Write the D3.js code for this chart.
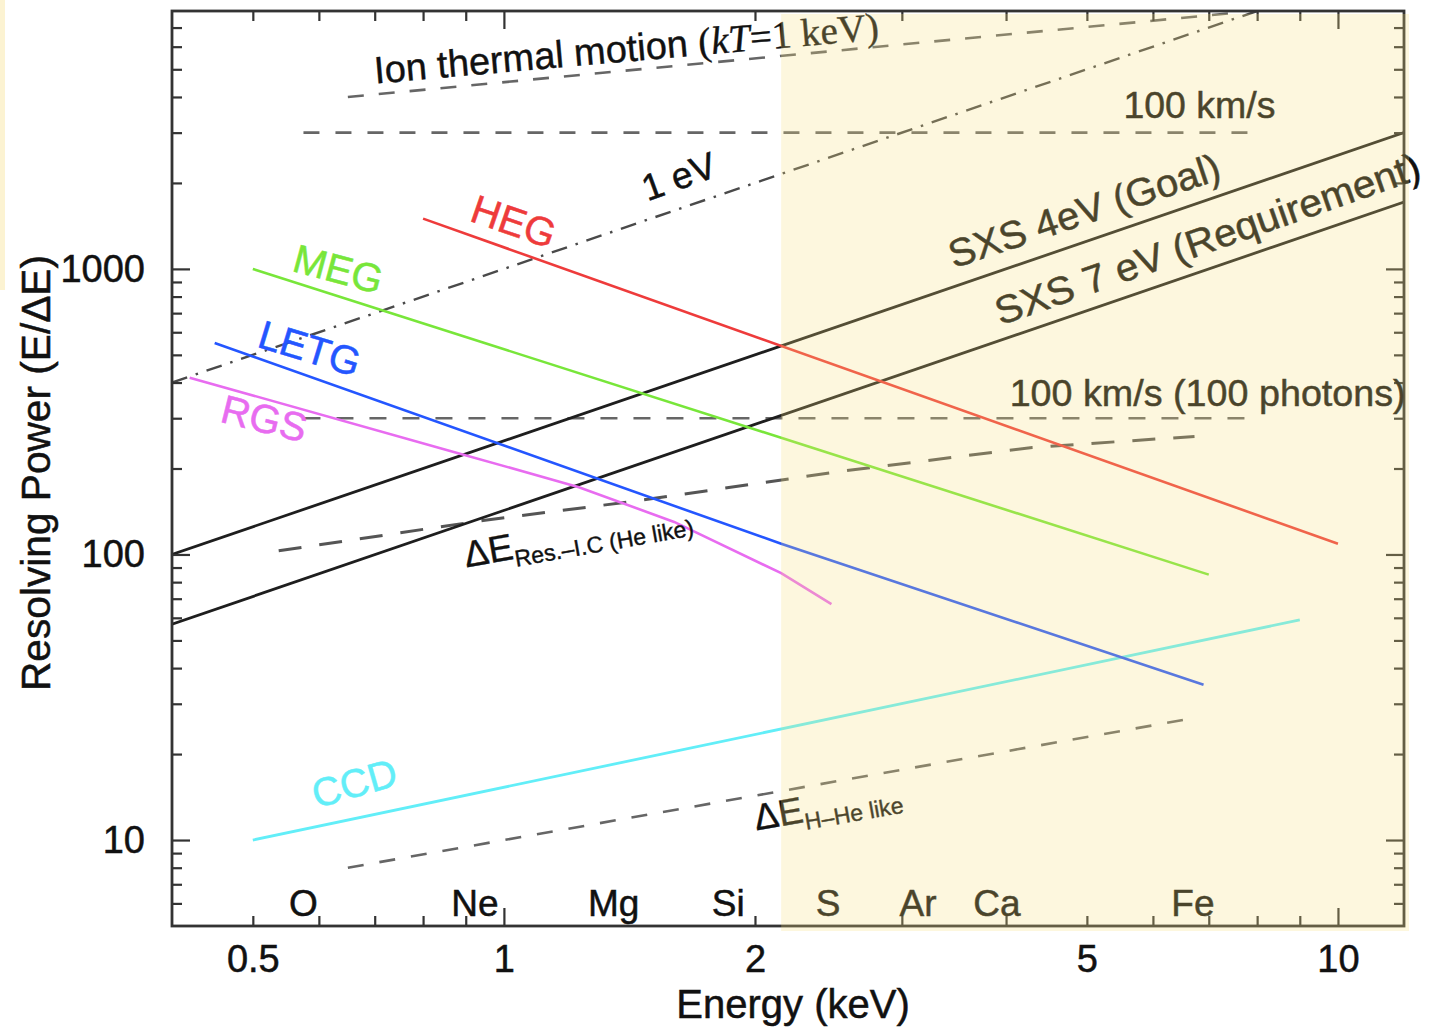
<!DOCTYPE html>
<html><head><meta charset="utf-8">
<script src="https://cdn.jsdelivr.net/npm/d3@7"></script>
<style>
body{margin:0;background:#fff;}
svg{display:block;font-family:"Liberation Sans",Arial,Helvetica,sans-serif;}
svg text{paint-order:stroke;}
</style></head><body>
<svg id="chart" width="1434" height="1029"></svg>
<script>
// ---------- data ----------
const xDomain = [0.4, 12];
const yDomain = [5, 8000];
const xTickLabels = [0.5, 1, 2, 5, 10];
const yTickLabels = [10, 100, 1000];
const xMinorTicks = [0.5, 0.6, 0.7, 0.8, 0.9, 2, 3, 4, 5, 6, 7, 8, 9];
const xMajorTicks = [1, 10];
const yMinorTicks = [6, 7, 8, 9, 20, 30, 40, 50, 60, 70, 80, 90, 200, 300, 400, 500, 600, 700, 800, 900, 2000, 3000, 4000, 5000, 6000, 7000];
const yMajorTicks = [10, 100, 1000];

const hegE = [0.8, 10],          hegR = [1500, 109];
const megE = [0.5, 7],           megR = [1000, 85];
const letgE = [0.45, 2.15, 6.9], letgR = [550, 109, 35];
const rgsE = [0.42, 0.86, 1.23, 1.6, 2.15, 2.47], rgsR = [416, 231, 172, 130, 86, 67];
const ccdE = [0.5, 9],           ccdR = [10, 59];
const sxsGoalE = [0.4, 12],      sxsGoalR = [100, 3000];
const sxsReqE = [0.4, 12],       sxsReqR = [57, 1714];
const oneEvE = [0.4, 8],         oneEvR = [400, 8000];
const ionE = [0.65, 7.6],        ionR = [4000, 7900];
const v100E = [0.575, 7.9],      v100R = [3000, 3000];
const v100pE = [0.575, 7.9],     v100pR = [300, 300];
const resIcE = [0.537, 0.944, 1.454, 2.52, 4.3, 6.73], resIcR = [103, 131.5, 154.5, 195, 237, 259];
const hHeE = [0.65, 6.8],        hHeR = [8, 26.9];

const elementNames = ['O', 'Ne', 'Mg', 'Si', 'S', 'Ar', 'Ca', 'Fe'];
const elementE = [0.575, 0.923, 1.354, 1.858, 2.447, 3.137, 3.9, 6.7];
const shadeStartE = 2.15;

// ---------- setup ----------
const svg = d3.select('#chart');
const L = 172, R = 1404, T = 11, B = 926;
const x = d3.scaleLog().domain(xDomain).range([L, R]);
const y = d3.scaleLog().domain(yDomain).range([B, T]);

svg.append('rect').attr('width', 1434).attr('height', 1029).attr('fill', '#fff');
svg.append('rect').attr('x', 0).attr('y', 0).attr('width', 5).attr('height', 290).attr('fill', '#fcf3d2');

svg.append('clipPath').attr('id', 'plotclip').append('rect')
  .attr('x', L).attr('y', T).attr('width', R - L).attr('height', B - T);

// ---------- series ----------
const series = [
  {E: ionE, V: ionR, color: '#666', w: 2.6, dash: '16,15'},
  {E: v100E, V: v100R, color: '#666', w: 2.6, dash: '16,16'},
  {E: v100pE, V: v100pR, color: '#666', w: 2.6, dash: '17,16'},
  {E: resIcE, V: resIcR, color: '#555', w: 3, dash: '23,18'},
  {E: hHeE, V: hHeR, color: '#666', w: 2.6, dash: '16,16'},
  {E: oneEvE, V: oneEvR, color: '#4a4a4a', w: 2.4, dash: '16,9,2.5,9'},
  {E: sxsGoalE, V: sxsGoalR, color: '#1e1e1e', w: 2.8, dash: null},
  {E: sxsReqE, V: sxsReqR, color: '#1e1e1e', w: 2.8, dash: null},
  {E: ccdE, V: ccdR, color: '#62eef8', w: 2.8, dash: null},
  {E: rgsE, V: rgsR, color: '#e86cf0', w: 2.6, dash: null},
  {E: letgE, V: letgR, color: '#2456ff', w: 2.6, dash: null},
  {E: megE, V: megR, color: '#78e63a', w: 2.6, dash: null},
  {E: hegE, V: hegR, color: '#ee3b3b', w: 2.6, dash: null}
];
const line = d3.line().x(d => x(d[0])).y(d => y(d[1]));
const gLines = svg.append('g').attr('clip-path', 'url(#plotclip)');
series.forEach(s => {
  gLines.append('path')
    .attr('d', line(s.E.map((e, i) => [e, s.V[i]])))
    .attr('fill', 'none').attr('stroke', s.color).attr('stroke-width', s.w)
    .attr('stroke-dasharray', s.dash);
});

// ---------- axes ----------
function tickAxis(axisFn, scale, vals, size, transform) {
  const g = svg.append('g').attr('transform', transform)
    .call(axisFn(scale).tickValues(vals).tickSize(size).tickFormat(''));
  g.select('.domain').remove();
  g.selectAll('.tick line').attr('stroke', '#333').attr('stroke-width', 2.2);
}
tickAxis(d3.axisBottom, x, xMinorTicks, -10, `translate(0,${B})`);
tickAxis(d3.axisBottom, x, xMajorTicks, -18, `translate(0,${B})`);
tickAxis(d3.axisTop, x, xMinorTicks, -10, `translate(0,${T})`);
tickAxis(d3.axisTop, x, xMajorTicks, -18, `translate(0,${T})`);
tickAxis(d3.axisLeft, y, yMinorTicks, -10, `translate(${L},0)`);
tickAxis(d3.axisLeft, y, yMajorTicks, -18, `translate(${L},0)`);
tickAxis(d3.axisRight, y, yMinorTicks, -10, `translate(${R},0)`);
tickAxis(d3.axisRight, y, yMajorTicks, -18, `translate(${R},0)`);

const txtStroke = sel => sel.attr('stroke', d => null);

const gxl = svg.append('g').attr('transform', `translate(0,${B})`)
  .call(d3.axisBottom(x).tickValues(xTickLabels).tickSize(0).tickPadding(19).tickFormat(d => String(d)));
gxl.select('.domain').remove();
gxl.selectAll('text').attr('font-size', 38).attr('fill', '#111').attr('stroke', '#111').attr('stroke-width', 0.5)
  .attr('font-family', '"Liberation Sans",Arial,sans-serif');

const gyl = svg.append('g').attr('transform', `translate(${L},0)`)
  .call(d3.axisLeft(y).tickValues(yTickLabels).tickSize(0).tickPadding(27).tickFormat(d => String(d)));
gyl.select('.domain').remove();
gyl.selectAll('text').attr('font-size', 38).attr('fill', '#111').attr('stroke', '#111').attr('stroke-width', 0.5)
  .attr('font-family', '"Liberation Sans",Arial,sans-serif');

svg.append('rect').attr('x', L).attr('y', T).attr('width', R - L).attr('height', B - T)
  .attr('fill', 'none').attr('stroke', '#333').attr('stroke-width', 2.8);

// axis titles
svg.append('text').attr('x', 793).attr('y', 1018).attr('text-anchor', 'middle')
  .attr('font-size', 40).attr('fill', '#111').attr('stroke', '#111').attr('stroke-width', 0.5).text('Energy (keV)');
svg.append('text').attr('transform', 'translate(50,473) rotate(-90)').attr('text-anchor', 'middle')
  .attr('font-size', 40).attr('fill', '#111').attr('stroke', '#111').attr('stroke-width', 0.5)
  .attr('textLength', 436).attr('lengthAdjust', 'spacingAndGlyphs').text('Resolving Power (E/ΔE)');

// element labels
elementNames.forEach((n, i) => {
  svg.append('text').attr('x', x(elementE[i])).attr('y', B - 10).attr('text-anchor', 'middle')
    .attr('font-size', 37).attr('fill', '#111').attr('stroke', '#111').attr('stroke-width', 0.5).text(n);
});

// ---------- labels ----------
const labels = [
  {t: 'HEG', E: 0.906, V: 1476, a: 19, s: 40, c: '#ee3b3b'},
  {t: 'MEG', E: 0.555, V: 986, a: 15, s: 40, c: '#78e63a'},
  {t: 'LETG', E: 0.504, V: 535, a: 17, s: 40, c: '#2456ff'},
  {t: 'RGS', E: 0.455, V: 292, a: 14, s: 40, c: '#e86cf0'},
  {t: 'CCD', E: 0.596, V: 12.9, a: -16, s: 40, c: '#62eef8'},
  {t: '1 eV', E: 1.486, V: 1721, a: -20, s: 37, c: '#111'},
  {t: '100 km/s', E: 5.53, V: 3388, a: 0, s: 37, c: '#111', len: 152},
  {t: '100 km/s (100 photons)', E: 4.04, V: 332, a: 0, s: 37, c: '#111', len: 396},
  {t: 'SXS 4eV (Goal)', E: 3.463, V: 1003, a: -18.5, s: 39, c: '#111', len: 284},
  {t: 'SXS 7 eV (Requirement)', E: 3.94, V: 633, a: -19.3, s: 39, c: '#111', len: 448}
];
labels.forEach(l => {
  const t = svg.append('text')
    .attr('transform', `translate(${x(l.E)},${y(l.V)}) rotate(${l.a})`)
    .attr('font-size', l.s).attr('fill', l.c).attr('stroke', l.c).attr('stroke-width', 0.5).text(l.t);
  if (l.len) t.attr('textLength', l.len).attr('lengthAdjust', 'spacingAndGlyphs');
});

// ion thermal label
const ion = svg.append('text')
  .attr('transform', `translate(${x(0.701)},${y(4457)}) rotate(-5)`)
  .attr('font-size', 38).attr('fill', '#111').attr('stroke', '#111').attr('stroke-width', 0.4);
ion.append('tspan').text('Ion thermal motion ');
ion.append('tspan').attr('font-family', '"Liberation Serif",Times,serif').attr('font-size', 39).text('(');
ion.append('tspan').attr('font-family', '"Liberation Serif",Times,serif').attr('font-size', 39).attr('font-style', 'italic').text('kT');
ion.append('tspan').attr('font-family', '"Liberation Serif",Times,serif').attr('font-size', 39).text('=1 keV)');

// Delta E labels
function deltaLabel(E, V, ang, sub) {
  const t = svg.append('text')
    .attr('transform', `translate(${x(E)},${y(V)}) rotate(${ang})`)
    .attr('font-size', 37).attr('fill', '#111').attr('stroke', '#111').attr('stroke-width', 0.4);
  t.append('tspan').text('ΔE');
  t.append('tspan').attr('font-size', 23).attr('dy', 8).text(sub);
}
deltaLabel(0.901, 90.1, -10, 'Res.–I.C (He like)');
deltaLabel(2.007, 10.8, -10, 'H–He like');

// ---------- shaded overlay ----------
svg.append('rect').attr('x', x(shadeStartE)).attr('y', 14)
  .attr('width', R + 5 - x(shadeStartE)).attr('height', 931 - 14)
  .attr('fill', 'rgb(247,223,123)').attr('opacity', 0.25);
</script>
</body></html>
